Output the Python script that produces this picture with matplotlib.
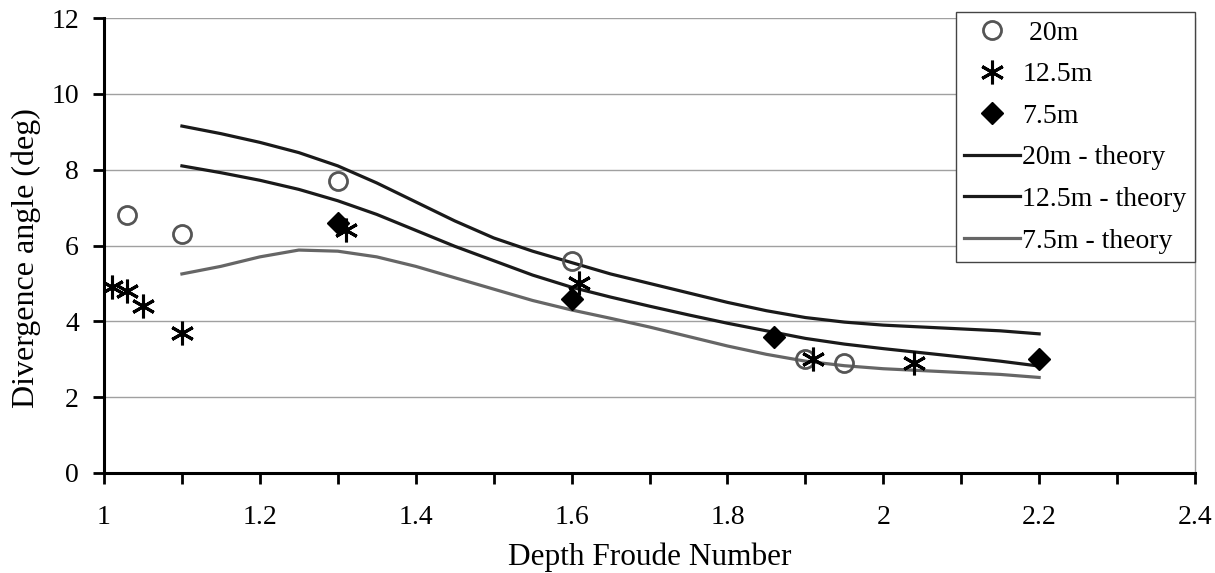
import matplotlib
matplotlib.use("Agg")
import matplotlib.pyplot as plt
from matplotlib.ticker import MultipleLocator

plt.rcParams['font.family'] = ['Liberation Serif', 'DejaVu Serif']

# measured data
fr_20 = [1.03, 1.10, 1.30, 1.60, 1.90, 1.95]
ang_20 = [6.8, 6.3, 7.7, 5.6, 3.0, 2.9]
fr_125 = [1.01, 1.03, 1.05, 1.10, 1.31, 1.61, 1.91, 2.04]
ang_125 = [4.9, 4.8, 4.4, 3.7, 6.4, 5.0, 3.0, 2.9]
fr_75 = [1.30, 1.60, 1.86, 2.20]
ang_75 = [6.6, 4.6, 3.6, 3.0]

# theory curves
fr_th = [1.10, 1.15, 1.20, 1.25, 1.30, 1.35, 1.40, 1.45, 1.50, 1.55, 1.60, 1.65,
         1.70, 1.75, 1.80, 1.85, 1.90, 1.95, 2.00, 2.05, 2.10, 2.15, 2.20]
th_20 = [9.15, 8.95, 8.72, 8.45, 8.10, 7.65, 7.15, 6.65, 6.20, 5.85, 5.55, 5.25,
         5.00, 4.75, 4.50, 4.28, 4.10, 3.98, 3.90, 3.85, 3.80, 3.75, 3.67]
th_125 = [8.10, 7.92, 7.72, 7.48, 7.18, 6.82, 6.40, 5.98, 5.60, 5.22, 4.90, 4.64,
          4.40, 4.17, 3.95, 3.75, 3.55, 3.40, 3.28, 3.17, 3.06, 2.95, 2.82]
th_75 = [5.25, 5.45, 5.70, 5.88, 5.85, 5.70, 5.45, 5.15, 4.85, 4.55, 4.30, 4.08,
         3.85, 3.60, 3.35, 3.13, 2.95, 2.83, 2.75, 2.70, 2.65, 2.60, 2.52]

xticks = [1, 1.2, 1.4, 1.6, 1.8, 2, 2.2, 2.4]
xticklabels = ['1', '1.2', '1.4', '1.6', '1.8', '2', '2.2', '2.4']
yticks = [0, 2, 4, 6, 8, 10, 12]

fig = plt.figure(figsize=(12.15, 5.73), dpi=100)
ax = fig.add_axes([104/1215, 1-473/573, (1195-104)/1215, (473-18)/573])

ax.plot(fr_20, ang_20, linestyle='none', marker='o', markersize=13,
        markerfacecolor='none', markeredgecolor='#555555', markeredgewidth=2,
        label=' 20m', zorder=4)
ax.plot(fr_125, ang_125, linestyle='none', marker=(6, 2, 0), markersize=17,
        markeredgecolor='black', markeredgewidth=2.2, color='black',
        label='12.5m', zorder=4)
ax.plot(fr_75, ang_75, linestyle='none', marker='D', markersize=11,
        color='black', label='7.5m', zorder=4)
ax.plot(fr_th, th_20, color='#1a1a1a', lw=2.3, label='20m - theory', zorder=3)
ax.plot(fr_th, th_125, color='#1a1a1a', lw=2.3, label='12.5m - theory', zorder=3)
ax.plot(fr_th, th_75, color='#666666', lw=2.3, label='7.5m - theory', zorder=3)

ax.set_xlim(1, 2.4)
ax.set_ylim(0, 12)
ax.set_xticks(xticks)
ax.set_xticklabels(xticklabels)
ax.xaxis.set_minor_locator(MultipleLocator(0.1))
ax.set_yticks(yticks)
ax.yaxis.grid(True, color='#a0a0a0', lw=1)
ax.set_axisbelow(True)

ax.spines['top'].set_visible(False)
ax.spines['right'].set_color('#a0a0a0')
ax.spines['right'].set_linewidth(1)
ax.spines['left'].set_linewidth(2.2)
ax.spines['bottom'].set_linewidth(2.2)
ax.tick_params(axis='both', which='both', direction='out', length=8, width=2,
               labelsize=20, color='black')
ax.tick_params(axis='x', pad=15)
ax.tick_params(axis='y', pad=10)

ax.set_xlabel('Depth Froude Number', fontsize=22.5, labelpad=9)
ax.set_ylabel('Divergence angle (deg)', fontsize=23)
ax.yaxis.set_label_coords(-0.058, 0.472)

leg = ax.legend(loc='upper right', bbox_to_anchor=(1195/1215, 1-12/573),
                bbox_transform=fig.transFigure, borderaxespad=0, fontsize=20,
                frameon=True, fancybox=False, edgecolor='#444444',
                framealpha=1, handlelength=2.0, handletextpad=0.1,
                labelspacing=0.58, borderpad=0.3)
leg.get_frame().set_linewidth(1)

fig.savefig('out.png', dpi=100)
